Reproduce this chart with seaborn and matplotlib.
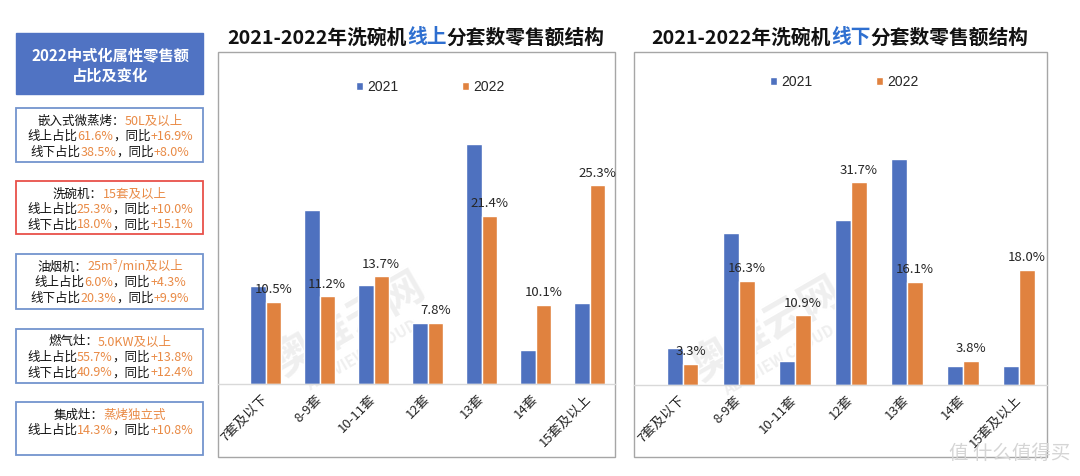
import numpy as np
import pandas as pd
import matplotlib
matplotlib.use("Agg")
import matplotlib.pyplot as plt
from matplotlib.patches import Rectangle
import seaborn as sns

# data
sizes = ['7套及以下', '8-9套', '10-11套', '12套', '13套', '14套', '15套及以上']
years = ['2021', '2022']
online_2021 = [12.5, 22.2, 12.6, 7.8, 30.6, 4.3, 10.3]
online_2022 = [10.5, 11.2, 13.7, 7.8, 21.4, 10.1, 25.3]
offline_2021 = [5.8, 23.8, 3.7, 25.8, 35.3, 3.0, 2.9]
offline_2022 = [3.3, 16.3, 10.9, 31.7, 16.1, 3.8, 18.0]

side_title = ['2022中式化属性零售额', '占比及变化']
cats = ['嵌入式微蒸烤', '洗碗机', '油烟机', '燃气灶', '集成灶']
specs = ['50L及以上', '15套及以上', '25m³/min及以上', '5.0KW及以上', '蒸烤独立式']
online_share = ['61.6%', '25.3%', '6.0%', '55.7%', '14.3%']
online_yoy = ['+16.9%', '+10.0%', '+4.3%', '+13.8%', '+10.8%']
offline_share = ['38.5%', '18.0%', '20.3%', '40.9%', None]
offline_yoy = ['+8.0%', '+15.1%', '+9.9%', '+12.4%', None]

BLUE = '#4E71BF'
ORANGE = '#E0823F'
TXT_OR = '#E98A45'
W, H = 1080, 476

sns.set_theme(style='white')
plt.rcParams['font.family'] = ['Noto Sans CJK SC', 'DejaVu Sans']

fig = plt.figure(figsize=(W / 100, H / 100), dpi=100)
fig.patch.set_facecolor('white')
renderer = fig.canvas.get_renderer()


def px(x, y):
    return x / W, 1 - y / H


def colored_line(cx, cy, parts, size, weight='normal'):
    items = [fig.text(0, 0, s, fontsize=size, color=c, weight=weight,
                      ha='left', va='center') for s, c in parts]
    widths = [t.get_window_extent(renderer).width for t in items]
    x = cx - sum(widths) / 2
    for t, w in zip(items, widths):
        t.set_position(px(x, cy))
        x += w


def fig_rect(x0, y0, x1, y1, **kw):
    fig.add_artist(Rectangle(px(x0, y1), (x1 - x0) / W, (y1 - y0) / H,
                             transform=fig.transFigure, **kw))


# ---- left side text boxes ----
fig_rect(16, 33, 203, 94, facecolor='#5073C3', edgecolor='#5073C3', lw=1)
fig.text(*px(110, 55), side_title[0], color='white', fontsize=11, weight='bold', ha='center', va='center')
fig.text(*px(110, 76), side_title[1], color='white', fontsize=11, weight='bold', ha='center', va='center')

tops = [108, 181, 254, 329, 402]
bottoms = [162, 234, 309, 383, 455]
for i in range(len(cats)):
    edge = '#E8504A' if cats[i] == '洗碗机' else '#7394CE'
    fig_rect(16, tops[i], 203, bottoms[i], facecolor='white', edgecolor=edge, lw=1.3)
    colored_line(110, tops[i] + 13, [(cats[i] + '：', '#111111'), (specs[i], TXT_OR)], 9)
    colored_line(110, tops[i] + 28.5, [('线上占比', '#111111'), (online_share[i], TXT_OR),
                                       ('，同比', '#111111'), (online_yoy[i], TXT_OR)], 9)
    if offline_share[i] is not None:
        colored_line(110, tops[i] + 44, [('线下占比', '#111111'), (offline_share[i], TXT_OR),
                                         ('，同比', '#111111'), (offline_yoy[i], TXT_OR)], 9)


# ---- the two charts ----
def draw_chart(frame, base_y, px_per_pct, xlims, v21, v22, title_parts, title_x, legend_xy, wm_xy):
    x0, x1 = frame
    fig_rect(x0, 52, x1, 457, facecolor='white', edgecolor='#A6A6A6', lw=1, zorder=-3)
    top = 105
    ax = fig.add_axes([x0 / W, 1 - base_y / H, (x1 - x0) / W, (base_y - top) / H])
    ax.set_facecolor('none')

    df = pd.DataFrame({'size': sizes * 2,
                       'year': [years[0]] * len(sizes) + [years[1]] * len(sizes),
                       'share': v21 + v22})
    sns.barplot(data=df, x='size', y='share', hue='year', palette=[BLUE, ORANGE],
                saturation=1, width=0.57, gap=0, ax=ax, errorbar=None)
    ax.set_ylim(0, (base_y - top) / px_per_pct)
    ax.set_xlim(*xlims)
    ax.bar_label(ax.containers[1], labels=[f'{v:.1f}%' for v in v22], padding=4, fontsize=9.5)
    for s in ['top', 'left', 'right']:
        ax.spines[s].set_visible(False)
    ax.spines['bottom'].set_color('#D9D9D9')
    ax.spines['bottom'].set_linewidth(1)
    ax.set_yticks([])
    ax.set_xlabel('')
    ax.set_ylabel('')
    ax.tick_params(axis='x', length=0, pad=9)
    plt.setp(ax.get_xticklabels(), rotation=45, ha='right', va='center',
             rotation_mode='anchor', fontsize=9.5)

    handles, labels = ax.get_legend_handles_labels()
    ax.legend(handles, labels, ncol=2, loc='center', bbox_to_anchor=px(*legend_xy),
              bbox_transform=fig.transFigure, frameon=False, handlelength=0.5,
              handleheight=0.5, handletextpad=0.3, columnspacing=4.6,
              prop={'family': 'Liberation Sans', 'size': 10})

    colored_line(title_x, 38, title_parts, 14.2, weight='bold')

    # faint watermark
    fig.text(*px(*wm_xy), '奥维云网', fontsize=30, weight='bold', color='#EFEFEF',
             rotation=30, ha='center', va='center', zorder=-2)
    fig.text(*px(wm_xy[0] + 12, wm_xy[1] + 30), 'ALL VIEW CLOUD', fontsize=11, weight='bold',
             color='#EFEFEF', rotation=30, ha='center', va='center', zorder=-2)
    return ax


draw_chart((218, 615), 384, 7.85, (-0.88, 6.47), online_2021, online_2022,
           [('2021-2022年洗碗机', '#111111'), ('线上', '#2E6FD0'), ('分套数零售额结构', '#111111')],
           416, (430, 87), (350, 325))
draw_chart((634, 1047), 385, 6.4, (-0.865, 6.5), offline_2021, offline_2022,
           [('2021-2022年洗碗机', '#111111'), ('线下', '#2E6FD0'), ('分套数零售额结构', '#111111')],
           840, (844, 82), (767, 330))

fig.text(*px(1010, 453), '值 什么值得买', fontsize=14, color='#D5D5D5', ha='center', va='center')

fig.savefig('out.png', dpi=100, facecolor='white')
